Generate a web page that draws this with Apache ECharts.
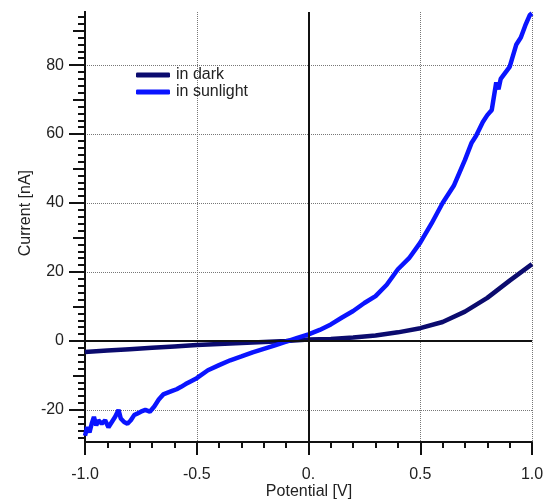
<!DOCTYPE html>
<html>
<head>
<meta charset="utf-8">
<script src="https://cdn.jsdelivr.net/npm/echarts@6/dist/echarts.min.js"></script>
<style>html,body{margin:0;padding:0;background:#fff}#c{width:547px;height:502px}</style>
</head>
<body>
<div id="c"></div>
<script>
// Potential [V] and current [nA]
var darkV = [-1.0,-0.9,-0.8,-0.7,-0.6,-0.5,-0.4,-0.3,-0.2,-0.1,0.0,0.1,0.2,0.3,0.4,0.5,0.6,0.7,0.8,0.9,1.0];
var darkI = [-3.2,-2.8,-2.4,-2.0,-1.6,-1.2,-0.9,-0.6,-0.3,0.0,0.4,0.6,1.0,1.6,2.5,3.7,5.5,8.5,12.5,17.5,22.3];

var sunV = [-1.0,-0.99,-0.98,-0.97,-0.96,-0.95,-0.94,-0.925,-0.91,-0.895,-0.88,-0.865,-0.85,-0.84,-0.825,-0.81,-0.795,-0.78,-0.765,-0.75,-0.73,-0.71,-0.69,-0.67,-0.65,-0.63,-0.61,-0.59,-0.57,-0.55,-0.53,-0.5,-0.45,-0.4,-0.35,-0.3,-0.25,-0.2,-0.15,-0.1,-0.05,0.0,0.05,0.1,0.15,0.2,0.25,0.3,0.35,0.4,0.45,0.5,0.55,0.6,0.65,0.7,0.73,0.75,0.78,0.8,0.82,0.84,0.85,0.86,0.9,0.93,0.95,0.97,0.99,1.0];
var sunI = [-27.5,-25.0,-26.5,-24.0,-22.0,-24.5,-23.0,-24.0,-23.0,-25.0,-23.5,-22.0,-20.0,-22.5,-23.5,-24.0,-23.0,-21.5,-21.0,-20.5,-20.0,-20.5,-19.0,-17.0,-15.5,-15.0,-14.5,-14.0,-13.3,-12.5,-11.8,-10.8,-8.5,-7.0,-5.6,-4.5,-3.3,-2.3,-1.3,-0.2,0.9,1.9,3.2,4.8,6.8,8.7,11.0,13.0,16.3,20.8,24.0,28.5,34.0,40.0,45.0,52.5,57.5,59.5,63.5,65.5,67.0,75.0,73.0,76.0,79.5,86.0,88.0,91.5,94.5,95.0];

var seriesNames = ['in dark', 'in sunlight'];
var xTitle = 'Potential [V]';
var yTitle = 'Current [nA]';
var yMajor = [-20, 0, 20, 40, 60, 80];
var yMedium = [-10, 10, 30, 50, 70, 90];
var yMinor = [];
for (var t = -28; t <= 94; t += 2) yMinor.push(t);

function pairs(xs, ys) { return xs.map(function (x, i) { return [x, ys[i]]; }); }

var FONT = 'Liberation Sans';
var FS = 16;
var YMIN = -29.3, YMAX = 95.4;

function yAx(ticks, len, withLabels, withSplit) {
  return {
    type: 'value', position: 'left', min: YMIN, max: YMAX,
    axisLine: { show: true, onZero: false, lineStyle: { color: '#111', width: 2 } },
    axisTick: { show: true, customValues: ticks, length: len, lineStyle: { color: '#111', width: 2 } },
    axisLabel: withLabels ? { show: true, customValues: ticks, margin: 21, fontSize: FS, fontFamily: FONT, color: '#222' } : { show: false },
    splitLine: withSplit ? { show: true, lineStyle: { color: '#777', type: 'dotted', width: 1 } } : { show: false }
  };
}

var chart = echarts.init(document.getElementById('c'), null, { renderer: 'canvas' });
chart.setOption({
  animation: false,
  backgroundColor: '#fff',
  grid: { left: 85, right: 15, top: 12, bottom: 60, containLabel: false, outerBoundsMode: 'none' },
  legend: {
    data: seriesNames, orient: 'vertical', left: 131, top: 62,
    itemWidth: 34, itemHeight: 5, itemGap: 1, icon: 'roundRect',
    textStyle: { fontSize: FS, fontFamily: FONT, color: '#222', padding: [0, 0, 0, 1] }
  },
  xAxis: {
    type: 'value', min: -1, max: 1, interval: 0.5,
    axisLine: { show: true, onZero: false, lineStyle: { color: '#111', width: 2 } },
    axisTick: { show: true, length: 13, lineStyle: { color: '#111', width: 2 } },
    minorTick: { show: true, splitNumber: 5, length: 6, lineStyle: { color: '#111', width: 2 } },
    axisLabel: { margin: 25, fontSize: FS, fontFamily: FONT, color: '#222',
      formatter: function (v) { return v === 0 ? '0.' : v.toFixed(1); } },
    splitLine: { show: true, lineStyle: { color: '#777', type: 'dotted', width: 1 } }
  },
  yAxis: [yAx(yMajor, 16, true, true), yAx(yMedium, 12, false, false), yAx(yMinor, 7, false, false)],
  graphic: [
    {
      type: 'text', left: 18, top: 170, rotation: Math.PI / 2,
      style: { text: yTitle, fontSize: FS, fontFamily: FONT, fill: '#222' }
    },
    {
      type: 'text', x: 309, y: 492,
      style: { text: xTitle, fontSize: FS, fontFamily: FONT, fill: '#222', align: 'center', verticalAlign: 'middle' }
    }
  ],
  series: [
    {
      name: 'zero', type: 'line', data: [], z: 1, silent: true,
      markLine: {
        silent: true, symbol: 'none', label: { show: false },
        lineStyle: { color: '#111', width: 2, type: 'solid' },
        data: [{ xAxis: 0 }, { yAxis: 0 }]
      }
    },
    {
      name: seriesNames[0], type: 'line', data: pairs(darkV, darkI), z: 3,
      symbol: 'none', showSymbol: false, color: '#0b0b6e',
      lineStyle: { width: 4.5, color: '#0b0b6e' }
    },
    {
      name: seriesNames[1], type: 'line', data: pairs(sunV, sunI), z: 4,
      symbol: 'none', showSymbol: false, color: '#0a14ff',
      lineStyle: { width: 4.5, color: '#0a14ff' }
    }
  ]
});
</script>
</body>
</html>
